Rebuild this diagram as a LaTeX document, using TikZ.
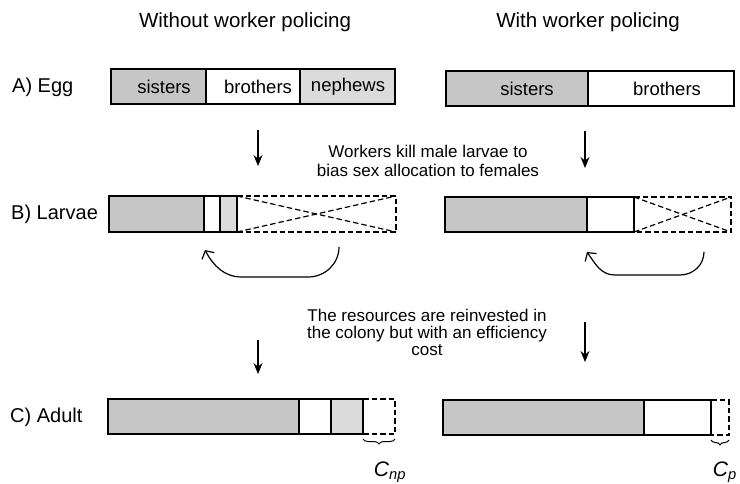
\documentclass[tikz,border=0pt]{standalone}
\usepackage{fontspec}
\setmainfont{Liberation Sans}
\usetikzlibrary{arrows.meta,decorations.pathreplacing}
\begin{document}
\begin{tikzpicture}[x=1pt,y=-1pt,
  bar/.style={line width=1.2pt},
  sis/.style={fill=gray!45},
  nep/.style={fill=gray!28},
  dsh/.style={line width=1.2pt, dash pattern=on 5.5pt off 3pt},
  down/.style={-{Stealth[length=11pt,width=9pt]}, line width=1.2pt},
  back/.style={-{Straight Barb[length=6pt,width=14pt]}, line width=1.2pt},
  lab/.style={font=\fontsize{20}{22}\selectfont, anchor=west, inner sep=0pt},
  head/.style={font=\fontsize{20.5}{22}\selectfont, inner sep=0pt},
  btxt/.style={font=\fontsize{18.5}{20}\selectfont, inner sep=0pt},
  mtxt/.style={align=center, inner sep=0pt},
  brc/.style={decorate, decoration={brace, mirror, amplitude=5pt}, line width=1pt},
  cl/.style={font=\fontsize{21}{22}\selectfont\itshape, inner sep=0pt},
]
\useasboundingbox (0,0) rectangle (740,483);

% headings
\node[head] (h1) at (245,22) {Without worker policing};
\node[head] (h2) at (588,22) {With worker policing};

% row labels
\node[lab] (la) at (12,87) {A) Egg};
\node[lab] (lb) at (11,214) {B) Larvae};
\node[lab] (lc) at (10,417) {C) Adult};

% Egg, left
\draw[bar,sis] (111,69) rectangle (206,104);
\draw[bar] (206,69) rectangle (300,104);
\draw[bar,nep] (300,69) rectangle (395,104);
\node[btxt] (e1) at (164,87) {sisters};
\node[btxt] (e2) at (258,87) {brothers};
\node[btxt] (e3) at (348,87) {nephews};

% Egg, right
\draw[bar,sis] (446,71) rectangle (588,106);
\draw[bar] (588,71) rectangle (734,106);
\node[btxt] (e4) at (527,89) {sisters};
\node[btxt] (e5) at (667,89) {brothers};

% Larvae, left
\draw[bar,sis] (109,196) rectangle (204,232);
\draw[bar] (204,196) rectangle (220,232);
\draw[bar,nep] (220,196) rectangle (237,232);
\draw[dsh] (237,196) -- (396,196) -- (396,232) -- (237,232);
\draw[dsh] (237,196) -- (396,232);
\draw[dsh] (237,232) -- (396,196);

% Larvae, right
\draw[bar,sis] (445,197) rectangle (587,232);
\draw[bar] (587,197) rectangle (634,232);
\draw[dsh] (634,197) -- (731,197) -- (731,232) -- (634,232);
\draw[dsh] (634,197) -- (731,232);
\draw[dsh] (634,232) -- (731,197);

% Adult, left
\draw[bar,sis] (108,399) rectangle (299,434);
\draw[bar] (299,399) rectangle (331,434);
\draw[bar,nep] (331,399) rectangle (363,434);
\draw[dsh] (363,399) -- (395,399) -- (395,434) -- (363,434);
\draw[brc] (363,439) -- (395,439);
\node[cl] (cnp) at (390,472) {C\textsubscript{np}};

% Adult, right
\draw[bar,sis] (443,400) rectangle (644,435);
\draw[bar] (644,400) rectangle (711,435);
\draw[dsh] (711,400) -- (729,400) -- (729,435) -- (711,435);
\draw[brc] (711,440) -- (729,440);
\node[cl, anchor=east] (cp) at (737,472) {C\textsubscript{p}};

% middle texts
\node[mtxt, font=\fontsize{17}{19.5}\selectfont] (t1) at (428,161)
  {Workers kill male larvae to\\bias sex allocation to females};
\node[mtxt, font=\fontsize{17}{17}\selectfont] (t2) at (427,332)
  {The resources are reinvested in\\the colony but with an efficiency\\cost};

% straight arrows
\coordinate (a1s) at (258,130); \coordinate (a1e) at (258,166);
\coordinate (a2s) at (585,131); \coordinate (a2e) at (585,168);
\coordinate (a3s) at (258,340); \coordinate (a3e) at (258,374);
\coordinate (a4s) at (585,322); \coordinate (a4e) at (585,362);
\draw[down] (a1s) -- (a1e);
\draw[down] (a2s) -- (a2e);
\draw[down] (a3s) -- (a3e);
\draw[down] (a4s) -- (a4e);

% curved return arrows
\coordinate (b1s) at (339,247); \coordinate (b1e) at (205,250);
\coordinate (b2s) at (704,252); \coordinate (b2e) at (587,252);
\draw[back] (b1s) to[out=-90,in=0] (308,277) -- (242,277) to[out=180,in=-62] (b1e);
\draw[back] (b2s) to[out=-90,in=0] (680,275) -- (615,275) to[out=180,in=-55] (b2e);
\end{tikzpicture}
\end{document}
